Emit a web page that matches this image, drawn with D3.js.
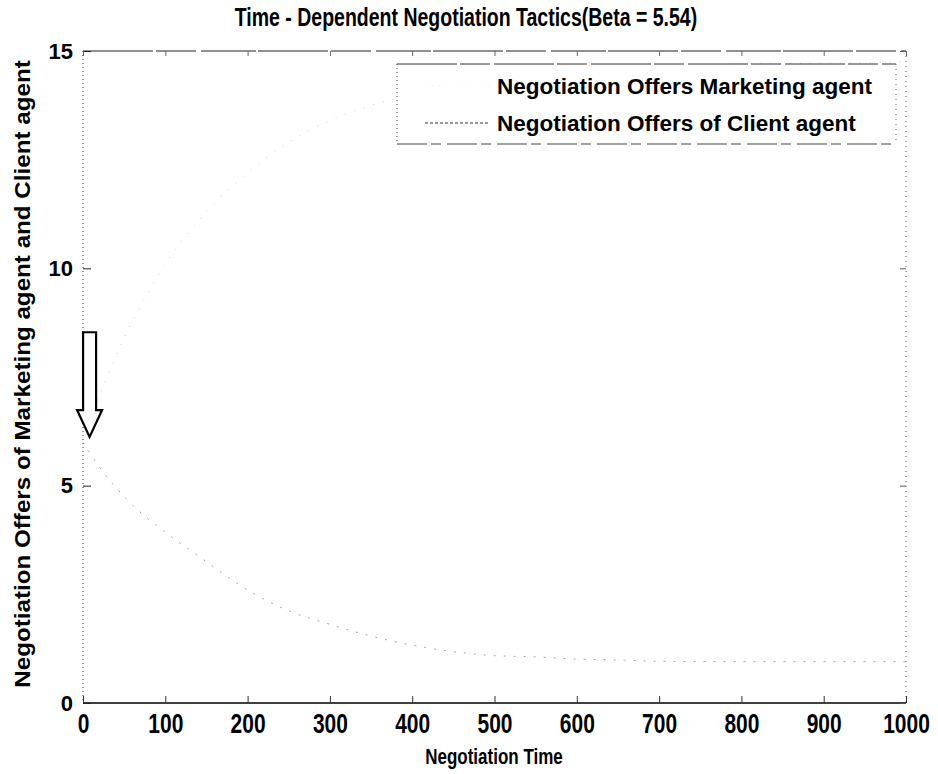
<!DOCTYPE html>
<html>
<head>
<meta charset="utf-8">
<script src="https://cdn.jsdelivr.net/npm/d3@7"></script>
<style>
  html, body { margin: 0; padding: 0; background: #fff; }
  svg { display: block; font-family: "Liberation Sans", Arial, sans-serif; }
</style>
</head>
<body>
<svg id="chart" width="938" height="774"></svg>
<script>
// Negotiation time steps and the offers of both agents at those steps
const timeSteps       = [0, 25, 50, 75, 100, 150, 200, 250, 300, 350, 400, 450, 500, 550, 600, 650, 700, 800, 900, 1000];
const marketingOffers = [6.1, 7.3, 8.4, 9.3, 10.1, 11.3, 12.2, 12.9, 13.4, 13.75, 14.0, 14.2, 14.35, 14.45, 14.55, 14.6, 14.65, 14.7, 14.72, 14.75];
const clientOffers    = [6.0, 5.3, 4.75, 4.3, 3.93, 3.25, 2.6, 2.12, 1.81, 1.54, 1.33, 1.18, 1.09, 1.06, 1.01, 0.99, 0.96, 0.95, 0.95, 0.95];

const xTicks = [0, 100, 200, 300, 400, 500, 600, 700, 800, 900, 1000];
const yTicks = [0, 5, 10, 15];

const seriesNames = ["Negotiation Offers Marketing agent", "Negotiation Offers of Client agent"];
const titleText = "Time - Dependent Negotiation Tactics(Beta = 5.54)";
const xLabel = "Negotiation Time";
const yLabel = "Negotiation Offers of Marketing agent and Client agent";

// starting-point marker: arrow from (t, top) down to (t, tip)
const arrowMark = { t: 8, top: 8.53, headBase: 6.74, tip: 6.12 };

const svg = d3.select("#chart");
const m = { left: 83, right: 906, top: 51, bottom: 703 };

const x = d3.scaleLinear().domain([0, 1000]).range([m.left, m.right]);
const y = d3.scaleLinear().domain([0, 15]).range([m.bottom, m.top]);

const plot = svg.append("g");

// data lines (faint, as printed)
const line = d3.line().x((d, i) => x(timeSteps[i])).y(d => y(d)).curve(d3.curveMonotoneX);

plot.append("path").datum(marketingOffers)
  .attr("d", line).attr("fill", "none")
  .attr("stroke", "#d2d2d2").attr("stroke-width", 1)
  .attr("stroke-dasharray", "1,9");

plot.append("path").datum(clientOffers)
  .attr("d", line).attr("fill", "none")
  .attr("stroke", "#a6a6a6").attr("stroke-width", 1)
  .attr("stroke-dasharray", "2,8");

// frame: bottom solid, other sides faint/broken
const frame = svg.append("g").attr("fill", "none");
frame.append("line").attr("x1", m.left).attr("x2", m.right).attr("y1", m.bottom).attr("y2", m.bottom)
  .attr("stroke", "#000").attr("stroke-width", 1.3);
frame.append("line").attr("x1", m.left).attr("x2", m.right).attr("y1", m.top).attr("y2", m.top)
  .attr("stroke", "#222").attr("stroke-width", 1).attr("stroke-dasharray", "70,3,40,5,55,2");
frame.append("line").attr("x1", m.left).attr("x2", m.left).attr("y1", m.top).attr("y2", m.bottom)
  .attr("stroke", "#333").attr("stroke-width", 1).attr("stroke-dasharray", "1,3");
frame.append("line").attr("x1", m.right).attr("x2", m.right).attr("y1", m.top).attr("y2", m.bottom)
  .attr("stroke", "#555").attr("stroke-width", 1).attr("stroke-dasharray", "1,4");

// axes with inward ticks
const fontStack = "'Liberation Sans', Arial, sans-serif";

const xAxis = svg.append("g").attr("transform", `translate(0,${m.bottom})`)
  .call(d3.axisBottom(x).tickValues(xTicks).tickSize(-7).tickPadding(10).tickFormat(d3.format("d")));
xAxis.select(".domain").remove();
xAxis.selectAll(".tick line").attr("stroke", "#333");
xAxis.selectAll(".tick text")
  .attr("font-family", fontStack).attr("font-weight", "bold").attr("font-size", 21)
  .attr("fill", "#000").attr("dy", null).attr("y", 0)
  .attr("transform", "translate(0,30) scale(1,1.32)");

const yAxis = svg.append("g").attr("transform", `translate(${m.left},0)`)
  .call(d3.axisLeft(y).tickValues(yTicks).tickSize(-8).tickPadding(10).tickFormat(d3.format("d")));
yAxis.select(".domain").remove();
yAxis.selectAll(".tick line").attr("stroke", "#222");
yAxis.selectAll(".tick text")
  .attr("font-family", fontStack).attr("font-weight", "bold").attr("font-size", 22).attr("fill", "#000");

// mirrored ticks on top and right
svg.append("g").attr("transform", `translate(0,${m.top})`)
  .call(d3.axisTop(x).tickValues(xTicks).tickSize(-5).tickFormat(""))
  .call(g => g.select(".domain").remove())
  .selectAll(".tick line").attr("stroke", "#666");
svg.append("g").attr("transform", `translate(${m.right},0)`)
  .call(d3.axisRight(y).tickValues(yTicks).tickSize(-6).tickFormat(""))
  .call(g => g.select(".domain").remove())
  .selectAll(".tick line").attr("stroke", "#555");

// title and axis labels
svg.append("text")
  .attr("x", 466).attr("y", 0)
  .attr("transform", "translate(0,26) scale(1,1.3)")
  .attr("text-anchor", "middle").attr("font-family", fontStack).attr("font-weight", "bold")
  .attr("font-size", 19.5).attr("fill", "#000").text(titleText);

svg.append("text")
  .attr("x", 494).attr("y", 0)
  .attr("transform", "translate(0,764) scale(1,1.3)")
  .attr("text-anchor", "middle").attr("font-family", fontStack).attr("font-weight", "bold")
  .attr("font-size", 17).attr("fill", "#000").text(xLabel);

svg.append("text")
  .attr("transform", `translate(30,374) rotate(-90) scale(1.1,1)`)
  .attr("text-anchor", "middle").attr("font-family", fontStack).attr("font-weight", "bold")
  .attr("font-size", 22).attr("fill", "#000").text(yLabel);

// arrow marking where the offers start
const ax = x(arrowMark.t);
const shaftHalf = 6.5, headHalf = 12.5;
const arrowPts = [
  [ax - shaftHalf, y(arrowMark.top)],
  [ax + shaftHalf, y(arrowMark.top)],
  [ax + shaftHalf, y(arrowMark.headBase)],
  [ax + headHalf, y(arrowMark.headBase)],
  [ax, y(arrowMark.tip)],
  [ax - headHalf, y(arrowMark.headBase)],
  [ax - shaftHalf, y(arrowMark.headBase)]
];
svg.append("path")
  .attr("d", d3.line()(arrowPts) + "Z")
  .attr("fill", "#fff").attr("stroke", "#000").attr("stroke-width", 2.2)
  .attr("stroke-linejoin", "miter");

// legend
const lg = { x0: 397, x1: 896, y0: 64, y1: 144 };
const legend = svg.append("g");
legend.append("rect")
  .attr("x", lg.x0).attr("y", lg.y0).attr("width", lg.x1 - lg.x0).attr("height", lg.y1 - lg.y0)
  .attr("fill", "#fff").attr("stroke", "none");
legend.append("line").attr("x1", lg.x0).attr("x2", lg.x1).attr("y1", lg.y0).attr("y2", lg.y0)
  .attr("stroke", "#333").attr("stroke-width", 1).attr("stroke-dasharray", "60,3,30,4");
legend.append("line").attr("x1", lg.x0).attr("x2", lg.x1).attr("y1", lg.y1).attr("y2", lg.y1)
  .attr("stroke", "#444").attr("stroke-width", 1).attr("stroke-dasharray", "30,4,10,6");
legend.append("line").attr("x1", lg.x0).attr("x2", lg.x0).attr("y1", lg.y0).attr("y2", lg.y1)
  .attr("stroke", "#444").attr("stroke-width", 1).attr("stroke-dasharray", "1,3");
legend.append("line").attr("x1", lg.x1).attr("x2", lg.x1).attr("y1", lg.y0).attr("y2", lg.y1)
  .attr("stroke", "#666").attr("stroke-width", 1).attr("stroke-dasharray", "1,4");

const legendRows = [
  { name: seriesNames[0], y: 86, stroke: "#ececec", dash: "1,6" },
  { name: seriesNames[1], y: 123, stroke: "#333", dash: "3,2" }
];
legendRows.forEach(r => {
  legend.append("line").attr("x1", 425).attr("x2", 490).attr("y1", r.y).attr("y2", r.y)
    .attr("stroke", r.stroke).attr("stroke-width", 1).attr("stroke-dasharray", r.dash);
  legend.append("text").attr("x", 497).attr("y", r.y + 8)
    .attr("font-family", fontStack).attr("font-weight", "bold").attr("font-size", 22.5)
    .attr("fill", "#000").text(r.name);
});
</script>
</body>
</html>
